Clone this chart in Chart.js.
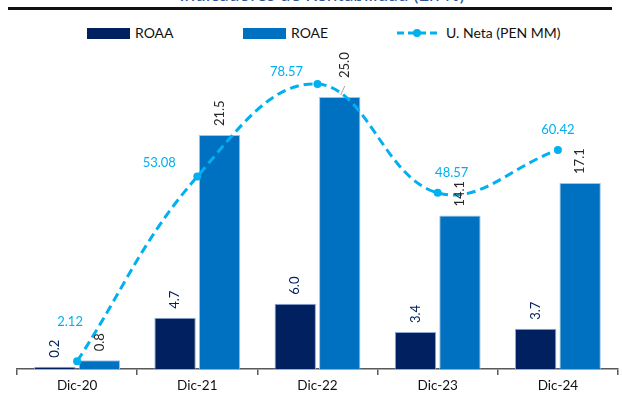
<!DOCTYPE html>
<html>
<head>
<meta charset="utf-8">
<script src="https://cdn.jsdelivr.net/npm/chart.js@4.4.1/dist/chart.umd.min.js"></script>
<style>
  html, body { margin: 0; padding: 0; background: #fff; overflow: hidden; }
  #wrap { position: relative; width: 622px; height: 399px; font-family: Lato, "Noto Sans", sans-serif; }
  #titulo { position: absolute; left: 0; width: 644px; top: -16px; text-align: center; font-size: 19px; line-height: 19px; color: #2F5597; white-space: nowrap; }
  #raya { position: absolute; left: 8px; top: 7px; width: 604px; height: 3px; background: #111; }
  .leyenda { position: absolute; top: 25px; font-size: 14px; line-height: 16px; color: #111; white-space: nowrap; }
  .caja { position: absolute; top: 3px; width: 43px; height: 11px; }
  canvas { position: absolute; left: 0; top: 0; }
</style>
</head>
<body>
<div id="wrap">
  <div id="titulo">Indicadores de Rentabilidad (En %)</div>
  <div id="raya"></div>
  <div class="leyenda" style="left:87px;"><span class="caja" style="left:0;background:#002060;"></span><span style="position:absolute;left:48px;">ROAA</span></div>
  <div class="leyenda" style="left:243px;"><span class="caja" style="left:0;background:#0070C0;"></span><span style="position:absolute;left:48px;">ROAE</span></div>
  <div class="leyenda" style="left:396px;">
    <svg width="44" height="16" style="position:absolute;left:0;top:0;">
      <line x1="1" y1="8" x2="43" y2="8" stroke="#00B0F0" stroke-width="3" stroke-dasharray="7,4"></line>
      <circle cx="21" cy="8" r="4" fill="#00B0F0"></circle>
    </svg>
    <span style="position:absolute;left:50px;">U. Neta (PEN MM)</span>
  </div>
  <canvas id="grafico" width="622" height="399"></canvas>
</div>
<script>
// Datos
const categorias = ['Dic-20', 'Dic-21', 'Dic-22', 'Dic-23', 'Dic-24'];
const roaa = [0.2, 4.7, 6.0, 3.4, 3.7];
const roae = [0.8, 21.5, 25.0, 14.1, 17.1];
const utilidadNeta = [2.12, 53.08, 78.57, 48.57, 60.42];

// Desplazamiento de las etiquetas de la línea (como en el original)
const desplazLinea = [[-7, -39], [-38, -14], [-31, -12], [14, -20], [0, -20]];

// Etiquetas de datos
const etiquetas = {
    id: 'etiquetas',
    afterDatasetsDraw(chart) {
        const ctx = chart.ctx;
        ctx.save();
        ctx.font = '13px Lato, "Noto Sans", sans-serif';

        // Barras: texto vertical sobre cada barra
        [0, 1].forEach(di => {
            const meta = chart.getDatasetMeta(di);
            const ds = chart.data.datasets[di];
            meta.data.forEach((bar, i) => {
                let x = bar.x;
                let y = bar.y - 9;
                if (di === 1 && i === 2) {
                    // etiqueta movida con línea guía
                    x += 5;
                    y = bar.y - 19;
                    ctx.strokeStyle = '#A6A6A6';
                    ctx.lineWidth = 1;
                    ctx.beginPath();
                    ctx.moveTo(bar.x + 5, bar.y - 11);
                    ctx.lineTo(bar.x + 1, bar.y - 2);
                    ctx.stroke();
                }
                ctx.save();
                ctx.translate(x, y);
                ctx.rotate(-Math.PI / 2);
                ctx.textAlign = 'left';
                ctx.textBaseline = 'middle';
                ctx.fillStyle = di === 0 ? '#002060' : '#262626';
                ctx.fillText(ds.data[i].toFixed(1), 0, 0);
                ctx.restore();
            });
        });

        // Línea
        const metaL = chart.getDatasetMeta(2);
        ctx.fillStyle = '#00B0F0';
        ctx.textAlign = 'center';
        ctx.textBaseline = 'middle';
        metaL.data.forEach((pt, i) => {
            ctx.fillText(utilidadNeta[i].toFixed(2), pt.x + desplazLinea[i][0], pt.y + desplazLinea[i][1]);
        });
        ctx.restore();
    }
};

const ctx = document.getElementById('grafico').getContext('2d');
const chart = new Chart(ctx, {
    type: 'bar',
    data: {
        labels: categorias,
        datasets: [
            {
                label: 'ROAA',
                data: roaa,
                backgroundColor: '#002060',
                borderColor: '#8FAADC',
                borderWidth: { top: 1, left: 1, right: 1, bottom: 0 },
                yAxisID: 'y',
                order: 1,
                categoryPercentage: 0.74,
                barPercentage: 0.93
            },
            {
                label: 'ROAE',
                data: roae,
                backgroundColor: '#0070C0',
                borderColor: '#9DC3E6',
                borderWidth: { top: 1, left: 1, right: 1, bottom: 0 },
                yAxisID: 'y',
                order: 1,
                categoryPercentage: 0.74,
                barPercentage: 0.93
            },
            {
                type: 'line',
                label: 'U. Neta (PEN MM)',
                data: utilidadNeta,
                borderColor: '#00B0F0',
                backgroundColor: '#00B0F0',
                borderWidth: 3,
                borderDash: [9, 5],
                tension: 0.4,
                pointRadius: 4,
                pointBorderWidth: 0,
                fill: false,
                yAxisID: 'y1',
                order: 0
            }
        ]
    },
    options: {
        responsive: false,
        animation: false,
        layout: { padding: { top: 42.6, left: 17, right: 0, bottom: 0 } },
        plugins: {
            legend: { display: false },
            tooltip: { enabled: false }
        },
        scales: {
            x: {
                offset: true,
                grid: {
                    offset: true,
                    drawOnChartArea: false,
                    drawTicks: true,
                    tickLength: 6,
                    color: '#595959',
                    lineWidth: 1.5
                },
                border: { color: '#595959', width: 1.5 },
                ticks: {
                    color: '#111',
                    padding: 3,
                    font: { family: 'Lato, "Noto Sans", sans-serif', size: 13.5 },
                    maxRotation: 0
                },
                afterFit(scale) { scale.height = 30; }
            },
            y: { display: false, min: 0, max: 30 },
            y1: { display: false, min: 0, max: 90 }
        }
    },
    plugins: [etiquetas]
});
</script>
</body>
</html>
